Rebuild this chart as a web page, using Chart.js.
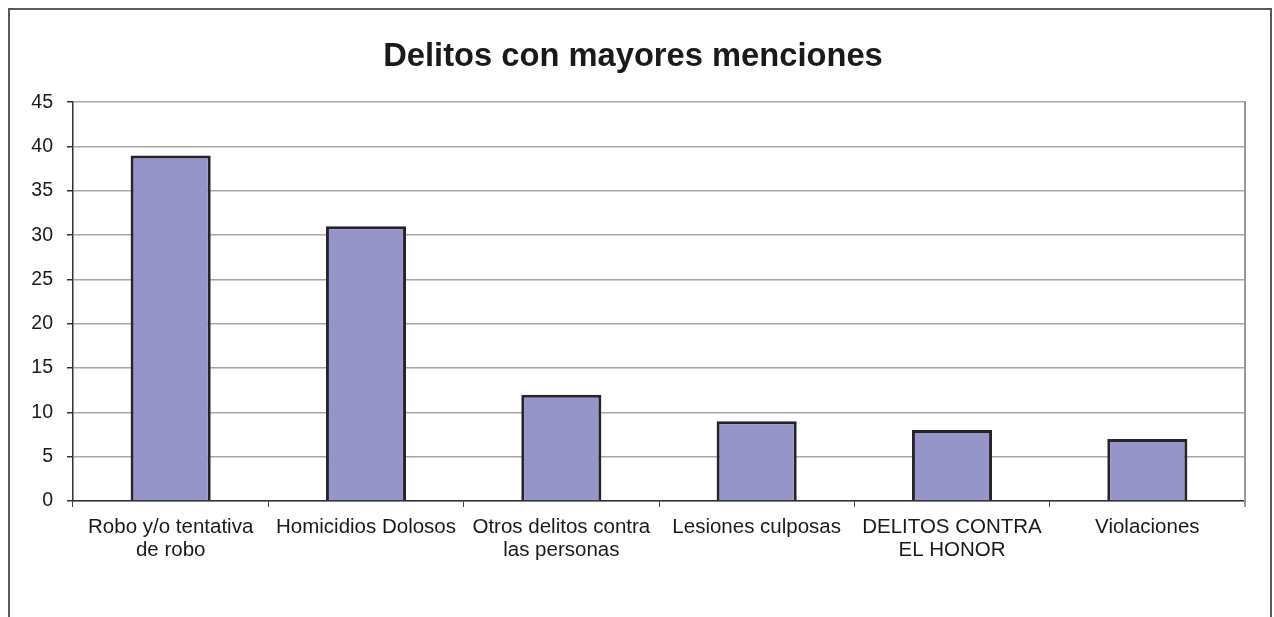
<!DOCTYPE html>
<html>
<head>
<meta charset="utf-8">
<script src="https://cdn.jsdelivr.net/npm/chart.js@4/dist/chart.umd.min.js"></script>
<style>
  body { margin: 0; background: #fff; overflow: hidden; }
  #frame { position: absolute; left: 8px; top: 8px; width: 1260px; height: 700px; border: 2px solid #5a5a5a; }
  #wrap { position: absolute; left: 0; top: 0; width: 1274px; height: 617px; }
</style>
</head>
<body>
<div id="frame"></div>
<div id="wrap"><canvas id="chart"></canvas></div>
<script>
// ========== Data ==========
const categories = [
    ["Robo y/o tentativa", "de robo"],
    "Homicidios Dolosos",
    ["Otros delitos contra", "las personas"],
    "Lesiones culposas",
    ["DELITOS CONTRA", "EL HONOR"],
    "Violaciones"
];
const menciones = [39, 31, 12, 9, 8, 7];
const yTicks = [0, 5, 10, 15, 20, 25, 30, 35, 40, 45];

// right edge of the plot area (gray line like the original)
const plotEdge = {
    id: 'plotEdge',
    afterDraw(chart) {
        const a = chart.chartArea;
        const ctx = chart.ctx;
        ctx.save();
        ctx.strokeStyle = '#9a9a9a';
        ctx.lineWidth = 2;
        ctx.beginPath();
        ctx.moveTo(a.right, a.top - 1);
        ctx.lineTo(a.right, a.bottom + 6);
        ctx.stroke();
        ctx.restore();
    }
};

const ctx = document.getElementById('chart').getContext('2d');
const myChart = new Chart(ctx, {
    type: 'bar',
    data: {
        labels: categories,
        datasets: [{
            label: 'Menciones',
            data: menciones,
            backgroundColor: '#9595c9',
            borderColor: '#26232a',
            borderWidth: 3,
            categoryPercentage: 1,
            barPercentage: 0.41
        }]
    },
    options: {
        responsive: true,
        maintainAspectRatio: false,
        animation: false,
        layout: { padding: { left: 21, right: 29, top: 0, bottom: 0 } },
        plugins: {
            legend: { display: false },
            tooltip: { enabled: false },
            title: {
                display: true,
                text: 'Delitos con mayores menciones',
                color: '#1a1a1a',
                font: { family: 'Liberation Sans, Arial, sans-serif', size: 32.7, weight: 'bold' },
                padding: { top: 37, bottom: 26 }
            }
        },
        scales: {
            x: {
                afterFit(scale) { scale.height = 116; },
                grid: {
                    offset: true,
                    drawOnChartArea: false,
                    tickLength: 6,
                    tickColor: '#444'
                },
                border: { color: '#333', width: 1.5 },
                ticks: {
                    padding: 9,
                    color: '#1a1a1a',
                    maxRotation: 0,
                    autoSkip: false,
                    font: { family: 'Liberation Sans, Arial, sans-serif', size: 20.5, lineHeight: 1.12 }
                }
            },
            y: {
                min: 0,
                max: 45,
                afterFit(scale) { scale.width = 52; },
                afterBuildTicks(scale) { scale.ticks = yTicks.map(v => ({ value: v })); },
                grid: {
                    color: '#a8a8a8',
                    lineWidth: 1.5,
                    tickLength: 6,
                    tickColor: '#333'
                },
                border: { color: '#333', width: 1.5 },
                ticks: {
                    padding: 14,
                    color: '#1a1a1a',
                    font: { family: 'Liberation Sans, Arial, sans-serif', size: 19.5 }
                }
            }
        }
    },
    plugins: [plotEdge]
});
</script>
</body>
</html>
